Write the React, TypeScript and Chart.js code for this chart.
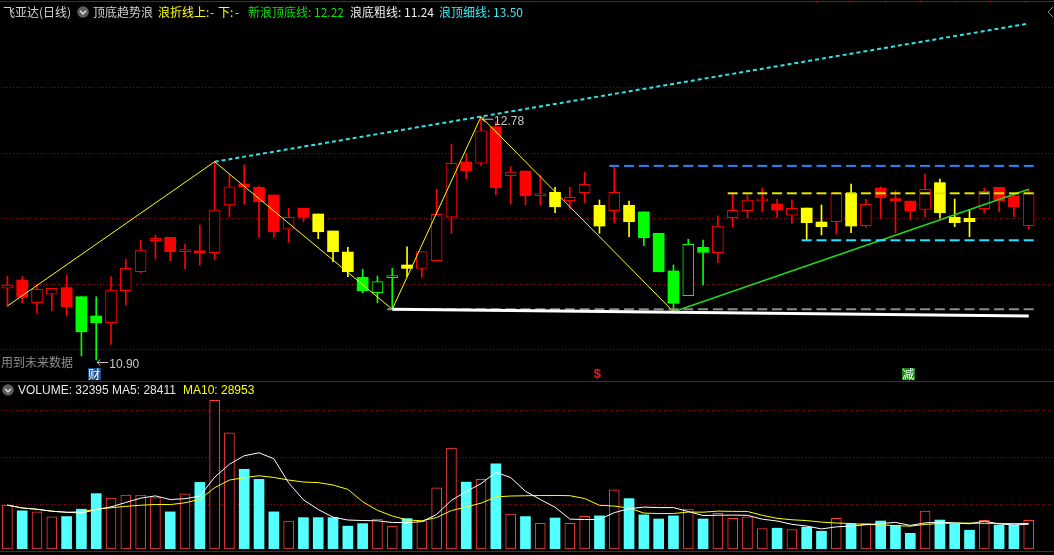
import React, { useEffect, useRef } from "react";
import { Chart, registerables } from "chart.js";

Chart.register(...registerables);

// ---------- data ----------
const categories: string[] = Array.from({ length: 70 }, (_, i) => String(i + 1));

const openPrices = [
  11.454, 11.518, 11.343, 11.408, 11.459, 11.389, 11.24, 11.188, 11.435, 11.582,
  11.822, 11.848, 11.737, 11.735, 11.729, 12.098, 12.26, 12.234, 12.175, 11.91,
  12.072, 12.028, 11.897, 11.734, 11.539, 11.42, 11.536, 11.634, 11.608, 11.667,
  12.003, 12.43, 12.42, 12.703, 12.324, 12.36, 12.17, 12.196, 12.131, 12.193,
  12.095, 12.054, 12.095, 12.044, 11.879, 11.588, 11.397, 11.771, 11.729, 12.0,
  12.054, 12.13, 12.105, 12.02, 12.074, 11.966, 11.969, 12.188, 11.938, 12.229,
  12.134, 12.128, 12.064, 12.27, 12.003, 11.995, 12.069, 12.234, 12.167, 11.938,
];
const highPrices = [
  11.549, 11.544, 11.487, 11.454, 11.557, 11.389, 11.389, 11.544, 11.68, 11.827,
  11.866, 11.848, 11.796, 11.943, 12.432, 12.33, 12.407, 12.245, 12.175, 12.072,
  12.072, 12.028, 11.897, 11.771, 11.601, 11.549, 11.608, 11.775, 11.737, 12.219,
  12.569, 12.497, 12.78, 12.741, 12.394, 12.36, 12.33, 12.234, 12.234, 12.35,
  12.136, 12.394, 12.128, 12.044, 11.879, 11.634, 11.833, 11.827, 12.013, 12.188,
  12.173, 12.229, 12.142, 12.136, 12.074, 12.098, 12.196, 12.26, 12.142, 12.239,
  12.206, 12.128, 12.337, 12.298, 12.144, 12.064, 12.227, 12.234, 12.183, 12.219,
];
const lowPrices = [
  11.317, 11.343, 11.261, 11.281, 11.24, 10.931, 10.9, 11.021, 11.325, 11.574,
  11.68, 11.667, 11.603, 11.634, 11.678, 12.007, 12.103, 11.848, 11.848, 11.809,
  11.969, 11.837, 11.659, 11.544, 11.42, 11.343, 11.292, 11.544, 11.539, 11.667,
  11.879, 12.301, 12.401, 12.175, 12.105, 12.098, 12.098, 12.038, 12.064, 12.115,
  11.879, 11.961, 11.853, 11.783, 11.582, 11.273, 11.397, 11.479, 11.652, 11.928,
  12.0, 12.044, 11.997, 11.956, 11.827, 11.866, 11.874, 11.884, 11.925, 11.995,
  11.884, 11.982, 12.007, 11.995, 11.93, 11.853, 12.038, 12.046, 12.007, 11.912,
];
const closePrices = [
  11.479, 11.384, 11.446, 11.454, 11.312, 11.118, 11.188, 11.441, 11.608, 11.75,
  11.84, 11.737, 11.75, 11.728, 12.059, 12.239, 12.239, 12.123, 11.891, 12.003,
  12.003, 11.891, 11.737, 11.582, 11.435, 11.505, 11.54, 11.608, 11.737, 12.026,
  12.42, 12.363, 12.67, 12.231, 12.353, 12.17, 12.175, 12.084, 12.157, 12.258,
  11.935, 12.196, 11.969, 11.845, 11.582, 11.338, 11.794, 11.732, 11.935, 12.057,
  12.136, 12.135, 12.059, 12.072, 11.961, 11.93, 12.188, 11.935, 12.103, 12.154,
  12.131, 12.051, 12.219, 12.038, 11.961, 11.969, 12.203, 12.131, 12.084, 12.188,
];
// wave state of every candle: R = red, Y = yellow, G = green
const waveStates = [
  "R", "R", "R", "R", "R", "G", "G", "R", "R", "R",
  "R", "R", "R", "R", "R", "R", "R", "R", "R", "R",
  "R", "Y", "Y", "Y", "G", "G", "G", "Y", "R", "R",
  "R", "R", "R", "R", "R", "R", "R", "Y", "R", "R",
  "Y", "R", "Y", "G", "G", "G", "G", "G", "R", "R",
  "R", "R", "R", "R", "Y", "Y", "R", "Y", "R", "R",
  "R", "R", "R", "Y", "Y", "Y", "R", "R", "R", "R",
];
const volumes = [
  49500, 43100, 41900, 36200, 36600, 44900, 62500, 57600, 60900, 60900,
  57900, 41900, 62200, 75200, 167800, 131200, 90000, 78600, 41900, 31600,
  35400, 35400, 35400, 25800, 28600, 33900, 26000, 34300, 31600, 69000,
  114000, 75500, 78600, 96000, 39300, 36600, 28900, 35000, 28900, 36900,
  37400, 66900, 56900, 38500, 33900, 37400, 45000, 33900, 40400, 34700,
  36200, 23100, 23500, 22000, 24600, 20100, 34700, 28400, 28900, 31600,
  26500, 17700, 42700, 32700, 28100, 21200, 32400, 27000, 27000, 32395,
];

// zigzag wave (浪折线) pivots
const wavePivotIndex = [0, 14, 26, 32, 45];
const wavePivotValue = [11.317, 12.432, 11.292, 12.78, 11.273];
// 浪顶细线 (top thin line)
const topLineIndex = [14, 69];
const topLineValue = [12.432, 13.5];
// 浪底粗线 (bottom thick line)
const bottomLineIndex = [26, 69];
const bottomLineValue = [11.292, 11.24];
// 新浪顶底线
const newWaveIndex = [45, 69];
const newWaveValue = [11.273, 12.22];
// horizontal level dashes
const levelValues = [12.4, 12.188, 11.825, 11.292];
const levelStarts = [41, 49, 54, 26];

// marks
const highLabelIndex = 32;
const lowLabelIndex = 6;
const signalIndex = [6, 40, 61];
const signalText = ["财", "$", "减"];

// ---------- helpers ----------
const N = categories.length;
const palette: Record<string, string> = { R: "#ff0000", Y: "#ffff00", G: "#00ff00" };
const levelColors = ["#1e8cff", "#e6e600", "#22e6ff", "#8a8a8a"];
const candleColor = (i: number) => palette[waveStates[i]];
const isUp = (i: number) => closePrices[i] > openPrices[i];

function sparse(idx: number[], vals: number[]) {
  const arr: (number | null)[] = new Array(N).fill(null);
  idx.forEach((k, j) => (arr[k] = vals[j]));
  return arr;
}
function movingAverage(values: number[], n: number) {
  return values.map((_, i) => {
    const w = values.slice(Math.max(0, i - n + 1), i + 1);
    return w.reduce((a, b) => a + b, 0) / w.length;
  });
}

const CJK = '"Noto Sans CJK SC", "Noto Sans", sans-serif';
const LAT = '"Liberation Sans", Arial, sans-serif';

const mainDecor = {
  id: "mainDecor",
  beforeDatasetsDraw(chart: any) {
    const ctx = chart.ctx;
    ctx.save();
    ctx.fillStyle = "#9c0000";
    for (const gy of [87, 153, 218, 284, 349]) {
      for (let x = 1; x < chart.width; x += 3) ctx.fillRect(x, gy, 1, 1);
    }
    ctx.restore();
  },
  afterDatasetsDraw(chart: any) {
    const ctx = chart.ctx;
    const xs = chart.scales.x;
    const ys = chart.scales.y;
    ctx.save();
    const drawArrowLabel = (idx: number, value: number) => {
      const px = xs.getPixelForValue(idx);
      const py = ys.getPixelForValue(value);
      ctx.strokeStyle = "#c8c8c8";
      ctx.lineWidth = 1;
      ctx.beginPath();
      ctx.moveTo(px + 1, py + 2.5);
      ctx.lineTo(px + 12, py + 2.5);
      ctx.moveTo(px + 1, py + 2.5);
      ctx.lineTo(px + 4, py - 0.5);
      ctx.moveTo(px + 1, py + 2.5);
      ctx.lineTo(px + 4, py + 5.5);
      ctx.stroke();
      ctx.fillStyle = "#c8c8c8";
      ctx.font = `12px ${LAT}`;
      ctx.textBaseline = "middle";
      ctx.textAlign = "left";
      ctx.fillText(value.toFixed(2), px + 13, py + 5);
    };
    drawArrowLabel(highLabelIndex, highPrices[highLabelIndex]);
    drawArrowLabel(lowLabelIndex, lowPrices[lowLabelIndex]);

    signalIndex.forEach((idx, k) => {
      const cx = xs.getPixelForValue(idx) - 2;
      const t = signalText[k];
      ctx.textAlign = "center";
      ctx.textBaseline = "middle";
      if (t === "$") {
        ctx.fillStyle = "#ff1010";
        ctx.font = `bold 13px ${LAT}`;
        ctx.fillText(t, cx, 374.5);
      } else {
        ctx.fillStyle = t === "财" ? "#1a4f8e" : "#138a13";
        ctx.fillRect(Math.round(cx - 6.5), 368, 13, 12);
        ctx.fillStyle = "#ffffff";
        ctx.font = `12px ${CJK}`;
        ctx.fillText(t, cx, 374);
      }
    });
    ctx.restore();
  },
};

const volDecor = {
  id: "volDecor",
  beforeDatasetsDraw(chart: any) {
    const ctx = chart.ctx;
    ctx.save();
    ctx.fillStyle = "#9c0000";
    for (const gy of [28, 75, 122]) {
      for (let x = 1; x < chart.width; x += 3) ctx.fillRect(x, gy, 1, 1);
    }
    ctx.restore();
  },
};

const commonOptions = {
  animation: false as const,
  responsive: false,
  maintainAspectRatio: false,
  events: [] as any[],
  layout: { autoPadding: false, padding: { left: 0, right: 17.9, top: 0, bottom: 0 } },
  plugins: { legend: { display: false }, tooltip: { enabled: false } },
};

export default function App() {
  const mainRef = useRef<HTMLCanvasElement>(null);
  const volRef = useRef<HTMLCanvasElement>(null);

  useEffect(() => {
    const colors = categories.map((_, i) => candleColor(i));
    const levelSets = levelValues.map((v, k) => ({
      type: "line" as const,
      label: `level${k}`,
      data: categories.map((_, i) => (i >= levelStarts[k] ? v : null)),
      showLine: false,
      pointStyle: "line" as const,
      pointRadius: 5,
      pointHoverRadius: 5,
      pointBorderWidth: 2,
      pointBorderColor: levelColors[k],
      pointBackgroundColor: levelColors[k],
      order: 0,
    }));

    const main = new Chart(mainRef.current as HTMLCanvasElement, {
      type: "bar",
      data: {
        labels: categories,
        datasets: [
          {
            type: "bar",
            label: "body",
            data: openPrices.map((o, i) => [o, closePrices[i]]) as any,
            backgroundColor: categories.map((_, i) => (isUp(i) ? "#000000" : colors[i])),
            borderColor: colors,
            borderWidth: categories.map((_, i) => (isUp(i) ? 1 : 0)),
            borderSkipped: false,
            barThickness: 11,
            minBarLength: 2,
            grouped: false,
            order: 1,
          },
          {
            type: "bar",
            label: "wick",
            data: lowPrices.map((l, i) => [l, highPrices[i]]) as any,
            backgroundColor: colors,
            borderWidth: 0,
            barThickness: 1,
            grouped: false,
            order: 2,
          },
          {
            type: "line",
            label: "bottomThick",
            data: sparse(bottomLineIndex, bottomLineValue),
            borderColor: "#ffffff",
            borderWidth: 3,
            pointRadius: 0,
            spanGaps: true,
            order: 0,
          },
          ...levelSets,
          {
            type: "line",
            label: "zigzag",
            data: sparse(wavePivotIndex, wavePivotValue),
            borderColor: "#ffff00",
            borderWidth: 1,
            pointRadius: 0,
            spanGaps: true,
            order: 0,
          },
          {
            type: "line",
            label: "newWave",
            data: sparse(newWaveIndex, newWaveValue),
            borderColor: "#1ed81e",
            borderWidth: 1.5,
            pointRadius: 0,
            spanGaps: true,
            order: 0,
          },
          {
            type: "line",
            label: "topThin",
            data: sparse(topLineIndex, topLineValue),
            borderColor: "#2ee6e6",
            borderWidth: 2,
            borderDash: [4, 3],
            pointRadius: 0,
            spanGaps: true,
            order: 0,
          },
        ] as any,
      },
      options: {
        ...commonOptions,
        scales: {
          x: { type: "category", display: false, offset: true, grid: { display: false } },
          y: { display: false, min: 10.7375, max: 13.6819 },
        },
      } as any,
      plugins: [mainDecor],
    });

    const ma5 = movingAverage(volumes, 5);
    const ma10 = movingAverage(volumes, 10);
    const vol = new Chart(volRef.current as HTMLCanvasElement, {
      type: "bar",
      data: {
        labels: categories,
        datasets: [
          {
            type: "bar",
            label: "VOLUME",
            data: volumes,
            backgroundColor: categories.map((_, i) => (isUp(i) ? "#000000" : "#54ffff")),
            borderColor: categories.map((_, i) => (isUp(i) ? "#ff3c3c" : "#54ffff")),
            borderWidth: categories.map((_, i) => (isUp(i) ? 1 : 0)),
            borderSkipped: false,
            barThickness: 10,
            order: 2,
          },
          {
            type: "line",
            label: "MA5",
            data: ma5,
            borderColor: "#ffffff",
            borderWidth: 1,
            pointRadius: 0,
            order: 0,
          },
          {
            type: "line",
            label: "MA10",
            data: ma10,
            borderColor: "#ffff00",
            borderWidth: 1,
            pointRadius: 0,
            order: 1,
          },
        ] as any,
      },
      options: {
        ...commonOptions,
        scales: {
          x: { type: "category", display: false, offset: true, grid: { display: false } },
          y: { display: false, min: 0, max: 188500 },
        },
      } as any,
      plugins: [volDecor],
    });

    return () => {
      main.destroy();
      vol.destroy();
    };
  }, []);

  const span = (left: number, top: number, color: string, text: string, font = CJK, size = 12) => (
    <span
      style={{
        position: "absolute",
        left,
        top,
        color,
        fontSize: size,
        lineHeight: "12px",
        fontFamily: font,
        whiteSpace: "pre",
      }}
    >
      {text}
    </span>
  );

  const icon = (left: number, top: number) => (
    <svg style={{ position: "absolute", left, top }} width={12} height={12}>
      <circle cx={6} cy={6} r={5.8} fill="#5c5c5c" />
      <polyline points="3,4.8 6,7.8 9,4.8" stroke="#d8d8d8" strokeWidth={1.6} fill="none" />
    </svg>
  );

  const topTicks = [816, 850, 885, 920, 955, 990, 1025];

  return (
    <div
      style={{
        position: "fixed",
        left: 0,
        top: 0,
        width: 1054,
        height: 555,
        background: "#000000",
        overflow: "hidden",
      }}
    >
      <canvas
        ref={mainRef}
        width={1054}
        height={381}
        style={{ position: "absolute", left: 0, top: 0, width: 1054, height: 381 }}
      />
      <canvas
        ref={volRef}
        width={1054}
        height={167}
        style={{ position: "absolute", left: 0, top: 382, width: 1054, height: 167 }}
      />
      {/* frame lines */}
      <div style={{ position: "absolute", left: 0, top: 1, width: 1054, height: 1, background: "#b00000" }} />
      {topTicks.map((x) => (
        <div key={x} style={{ position: "absolute", left: x, top: 1, width: 1, height: 2, background: "#b00000" }} />
      ))}
      <div style={{ position: "absolute", left: 0, top: 381, width: 1054, height: 1, background: "#b00000" }} />
      <div style={{ position: "absolute", left: 0, top: 551, width: 1054, height: 1, background: "#b00000" }} />

      {/* main header */}
      {span(3, 6, "#d2d2d2", "飞亚达(日线)")}
      {icon(77, 6)}
      {span(93, 6, "#cfcfcf", "顶底趋势浪")}
      {span(158, 6, "#ffff00", "浪折线上:")}
      {span(210, 6, "#ffff00", "-")}
      {span(218, 6, "#ffff00", "下:")}
      {span(235, 6, "#ffff00", "-")}
      {span(248, 6, "#00e600", "新浪顶底线: 12.22")}
      {span(350, 6, "#ececec", "浪底粗线: 11.24")}
      {span(439, 6, "#3ee8f2", "浪顶细线: 13.50")}
      <svg style={{ position: "absolute", left: 1047, top: 6 }} width={7} height={12}>
        <polyline points="6,1 1,6 6,11" stroke="#8a8a8a" strokeWidth={1} fill="none" />
      </svg>

      {span(1, 356, "#8c8c8c", "用到未来数据")}

      {/* volume header */}
      {icon(2, 384)}
      {span(18, 384, "#e6e6e6", "VOLUME: 32395 MA5: 28411", LAT)}
      {span(183, 384, "#ffff00", "MA10: 28953", LAT)}
    </div>
  );
}
